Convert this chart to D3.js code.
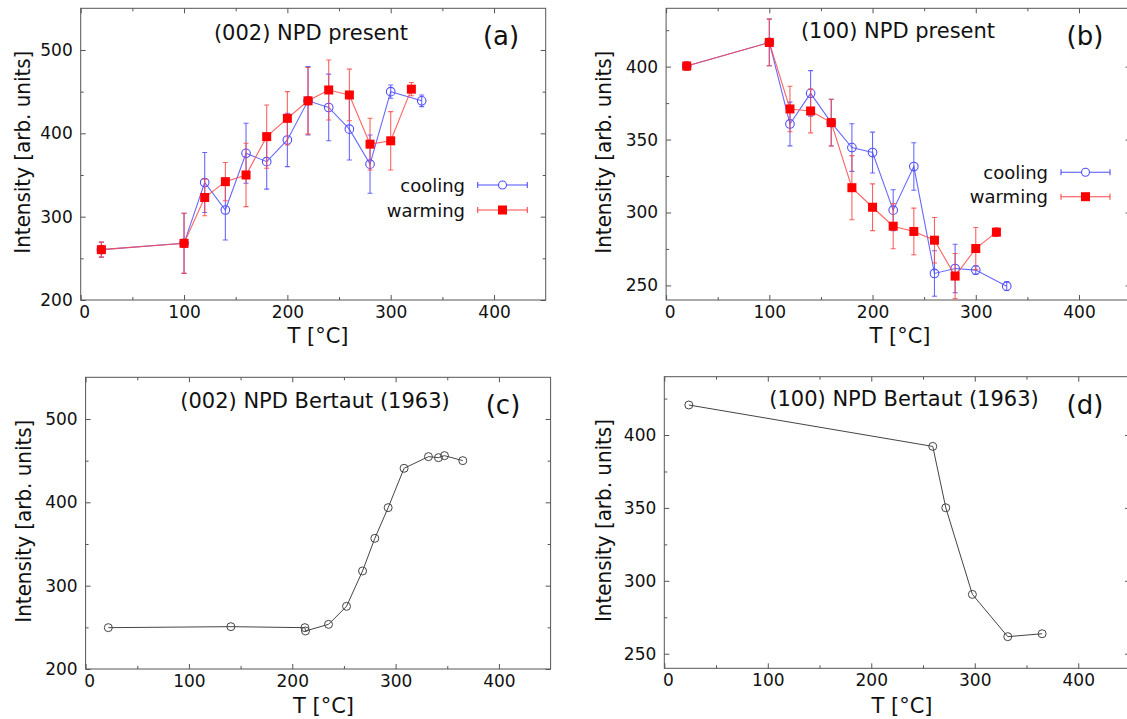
<!DOCTYPE html>
<html><head><meta charset="utf-8">
<script src="https://cdn.jsdelivr.net/npm/d3@7/dist/d3.min.js"></script>
<style>
body{margin:0;background:#fff;}
svg{display:block;}
text{font-family:"DejaVu Sans",sans-serif;fill:#111;}
</style></head>
<body>
<svg id="chart" width="1127" height="719"></svg>
<script>
// ---------------- data ----------------
const xMajorTicks = [0, 100, 200, 300, 400];
const xMinorTicks = [50, 150, 250, 350];
const y002Major = [200, 300, 400, 500];
const y002Minor = [250, 350, 450];
const y100Major = [250, 300, 350, 400];
const y100Minor = [275, 325, 375, 425];

// (a) (002) present
const warmT002 = [20, 100, 120, 140, 160, 180, 200, 220, 240, 260, 280, 300, 320];
const warmI002 = [260.4, 268, 323, 342, 350, 396, 418, 439, 452, 446, 387, 391, 453];
const warmE002 = [9, 36, 22, 23, 38, 38, 32, 40, 36, 31, 31, 35, 8];
const coolT002 = [20, 100, 120, 140, 160, 180, 200, 220, 240, 260, 280, 300, 330];
const coolI002 = [260.4, 268, 341, 308, 376, 366, 392, 439, 431, 405, 363, 450, 439];
const coolE002 = [9, 36, 36, 36, 36, 33, 32, 41, 40, 37, 35, 8, 7];

// (b) (100) present
const warmT100 = [20, 100, 120, 140, 160, 180, 200, 220, 240, 260, 280, 300, 320];
const warmI100 = [400.4, 416.6, 371, 369.6, 361.6, 317, 303.6, 290.6, 287, 281, 256.4, 275.3, 286.5];
const warmE100 = [3, 16, 15.6, 15, 16, 22, 16, 15.5, 16, 15.6, 15.5, 14.4, 3];
const coolT100 = [20, 100, 120, 140, 160, 180, 200, 220, 240, 260, 280, 300, 330];
const coolI100 = [400.4, 416.6, 360.7, 381.7, 361.6, 344.5, 341.1, 301.6, 331.5, 258.2, 261.6, 260.5, 249.5];
const coolE100 = [3, 16, 15, 15.6, 16, 16.3, 14, 14, 16.3, 15.6, 16.6, 3, 3];

// (c) (002) Bertaut
const bertT002 = [22, 140.6, 212.2, 212.8, 235.1, 252.5, 268, 279.9, 292.8, 308.2, 331.8, 341.5, 347.3, 365];
const bertI002 = [249.6, 250.8, 249.6, 245.6, 253.6, 275.2, 317.6, 356.8, 393.6, 440.8, 454.8, 453.6, 456, 450];

// (d) (100) Bertaut
const bertT100 = [23.7, 259.4, 272, 297.7, 331.9, 365.1];
const bertI100 = [420.6, 392.2, 350.1, 290.7, 261.7, 263.7];

const seriesNames = ["cooling", "warming"];
const titles = ["(002) NPD present", "(100) NPD present", "(002) NPD Bertaut (1963)", "(100) NPD Bertaut (1963)"];
const letters = ["(a)", "(b)", "(c)", "(d)"];
const xLabel = "T [°C]";
const yLabel = "Intensity [arb. units]";

// ---------------- drawing ----------------
const svg = d3.select("#chart");
const BLUE = "#4f4fff", RED = "#ff4646", REDM = "#ff0000";

const zip = (t, v, e) => t.map((d, i) => ({x: d, y: v[i], e: e ? e[i] : 0}));

const panels = [
  {l: 80.7, t: 8.3, r: 545.7, b: 300, ymin: 200, ymax: 550, yMaj: y002Major, yMin: y002Minor,
   title: titles[0], tc: [311, 39.5], letter: letters[0], lc: [501, 45], ylx: 22, xlx: 318, xly: 343,
   legend: {tx: 465, y1: 185, y2: 210, lx1: 477.7, lx2: 527.3},
   cool: zip(coolT002, coolI002, coolE002), warm: zip(warmT002, warmI002, warmE002)},
  {l: 666.1, t: 8.3, r: 1130.6, b: 300, ymin: 240, ymax: 440, yMaj: y100Major, yMin: y100Minor,
   title: titles[1], tc: [898, 38.3], letter: letters[1], lc: [1085, 45], ylx: 603, xlx: 900, xly: 343,
   legend: {tx: 1048, y1: 172.3, y2: 196.7, lx1: 1061, lx2: 1110},
   cool: zip(coolT100, coolI100, coolE100), warm: zip(warmT100, warmI100, warmE100)},
  {l: 85.6, t: 377.3, r: 550.6, b: 669, ymin: 200, ymax: 550, yMaj: y002Major, yMin: y002Minor,
   title: titles[2], tc: [315, 408.3], letter: letters[2], lc: [503, 414.3], ylx: 23, xlx: 323.5, xly: 713,
   bert: zip(bertT002, bertI002)},
  {l: 664.3, t: 376.7, r: 1130, b: 668.3, ymin: 240, ymax: 440, yMaj: y100Major, yMin: y100Minor,
   title: titles[3], tc: [904, 405.7], letter: letters[3], lc: [1085, 413.5], ylx: 603, xlx: 902, xly: 713,
   bert: zip(bertT100, bertI100)}
];

panels.forEach((p, pi) => {
  const x = d3.scaleLinear().domain([0, 450]).range([p.l, p.r]);
  const y = d3.scaleLinear().domain([p.ymin, p.ymax]).range([p.b, p.t]);
  const g = svg.append("g");
  const clipId = "clip" + pi;
  svg.append("clipPath").attr("id", clipId).append("rect")
    .attr("x", p.l).attr("y", p.t).attr("width", p.r - p.l).attr("height", p.b - p.t);

  const styleAxis = sel => {
    sel.select(".domain").remove();
    sel.selectAll("line").attr("stroke", "#555");
    sel.selectAll("text").style("font-family", "DejaVu Sans").style("font-size", "17px").attr("fill", "#111");
  };
  const xb = g.append("g").attr("transform", `translate(0,${p.b})`)
    .call(d3.axisBottom(x).tickValues(xMajorTicks).tickSize(-5).tickPadding(6).tickFormat(d3.format("d"))).call(styleAxis);
  xb.selectAll(".tick text").filter(d => d === 0).attr("dx", 3.5);
  g.append("g").attr("transform", `translate(0,${p.b})`)
    .call(d3.axisBottom(x).tickValues(xMinorTicks).tickSize(-3).tickFormat("")).call(styleAxis);
  g.append("g").attr("transform", `translate(0,${p.t})`)
    .call(d3.axisTop(x).tickValues(xMajorTicks).tickSize(-5).tickFormat("")).call(styleAxis);
  g.append("g").attr("transform", `translate(0,${p.t})`)
    .call(d3.axisTop(x).tickValues(xMinorTicks).tickSize(-3).tickFormat("")).call(styleAxis);
  g.append("g").attr("transform", `translate(${p.l},0)`)
    .call(d3.axisLeft(y).tickValues(p.yMaj).tickSize(-5).tickPadding(8).tickFormat(d3.format("d"))).call(styleAxis);
  g.append("g").attr("transform", `translate(${p.l},0)`)
    .call(d3.axisLeft(y).tickValues(p.yMin).tickSize(-3).tickFormat("")).call(styleAxis);
  g.append("g").attr("transform", `translate(${p.r},0)`)
    .call(d3.axisRight(y).tickValues(p.yMaj).tickSize(-5).tickFormat("")).call(styleAxis);
  g.append("g").attr("transform", `translate(${p.r},0)`)
    .call(d3.axisRight(y).tickValues(p.yMin).tickSize(-3).tickFormat("")).call(styleAxis);

  g.append("rect").attr("x", p.l).attr("y", p.t).attr("width", p.r - p.l).attr("height", p.b - p.t)
    .attr("fill", "none").attr("stroke", "#555").attr("stroke-width", 1);

  g.append("text").attr("x", p.xlx).attr("y", p.xly).attr("text-anchor", "middle")
    .style("font-size", "21px").text(xLabel);
  g.append("text").attr("transform", `translate(${p.ylx},${(p.t + p.b) / 2 - 2}) rotate(-90)`)
    .attr("text-anchor", "middle").attr("dominant-baseline", "central")
    .attr("textLength", 203).attr("lengthAdjust", "spacingAndGlyphs")
    .style("font-size", "22px").text(yLabel);

  g.append("text").attr("x", p.tc[0]).attr("y", p.tc[1]).attr("text-anchor", "middle")
    .style("font-size", "21px").text(p.title);
  g.append("text").attr("x", p.lc[0]).attr("y", p.lc[1]).attr("text-anchor", "middle")
    .style("font-size", "26px").text(p.letter);

  const plot = g.append("g").attr("clip-path", `url(#${clipId})`);
  const line = d3.line().x(d => x(d.x)).y(d => y(d.y));

  const drawSeries = (data, color, mcolor, marker) => {
    const sg = plot.append("g");
    sg.append("path").datum(data).attr("d", line).attr("fill", "none")
      .attr("stroke", color).attr("stroke-width", 1.1).attr("stroke-opacity", 0.85);
    const eb = sg.append("g").attr("stroke", color).attr("stroke-width", 1.1).attr("stroke-opacity", 0.85);
    data.forEach(d => {
      eb.append("line").attr("x1", x(d.x)).attr("x2", x(d.x)).attr("y1", y(d.y - d.e)).attr("y2", y(d.y + d.e));
      eb.append("line").attr("x1", x(d.x) - 2.5).attr("x2", x(d.x) + 2.5).attr("y1", y(d.y - d.e)).attr("y2", y(d.y - d.e));
      eb.append("line").attr("x1", x(d.x) - 2.5).attr("x2", x(d.x) + 2.5).attr("y1", y(d.y + d.e)).attr("y2", y(d.y + d.e));
    });
    if (marker === "circle") {
      sg.selectAll("circle").data(data).join("circle").attr("cx", d => x(d.x)).attr("cy", d => y(d.y))
        .attr("r", 4.3).attr("fill", "none").attr("stroke", mcolor).attr("stroke-width", 1.1);
    } else {
      sg.selectAll("rect").data(data).join("rect").attr("x", d => x(d.x) - 4.5).attr("y", d => y(d.y) - 4.5)
        .attr("width", 9).attr("height", 9).attr("fill", mcolor);
    }
  };

  if (p.cool) {
    drawSeries(p.cool, BLUE, BLUE, "circle");
    drawSeries(p.warm, RED, REDM, "square");
    const L = p.legend;
    [[seriesNames[0], L.y1, BLUE, "circle"], [seriesNames[1], L.y2, RED, "square"]].forEach(([name, ly, col, mk]) => {
      g.append("text").attr("x", L.tx).attr("y", ly).attr("text-anchor", "end")
        .attr("dominant-baseline", "central").style("font-size", "18px").text(name);
      const lg = g.append("g").attr("stroke", col).attr("stroke-width", 1.1);
      lg.append("line").attr("x1", L.lx1).attr("x2", L.lx2).attr("y1", ly).attr("y2", ly);
      lg.append("line").attr("x1", L.lx1).attr("x2", L.lx1).attr("y1", ly - 3).attr("y2", ly + 3);
      lg.append("line").attr("x1", L.lx2).attr("x2", L.lx2).attr("y1", ly - 3).attr("y2", ly + 3);
      const mx = (L.lx1 + L.lx2) / 2;
      if (mk === "circle") g.append("circle").attr("cx", mx).attr("cy", ly).attr("r", 4)
        .attr("fill", "#fff").attr("stroke", BLUE).attr("stroke-width", 1.1);
      else g.append("rect").attr("x", mx - 4.5).attr("y", ly - 4.5).attr("width", 9).attr("height", 9).attr("fill", REDM);
    });
  } else {
    plot.append("path").datum(p.bert).attr("d", line).attr("fill", "none")
      .attr("stroke", "#444").attr("stroke-width", 1);
    plot.selectAll("circle").data(p.bert).join("circle").attr("cx", d => x(d.x)).attr("cy", d => y(d.y))
      .attr("r", 4).attr("fill", "none").attr("stroke", "#444").attr("stroke-width", 1);
  }
});
</script>
</body></html>
